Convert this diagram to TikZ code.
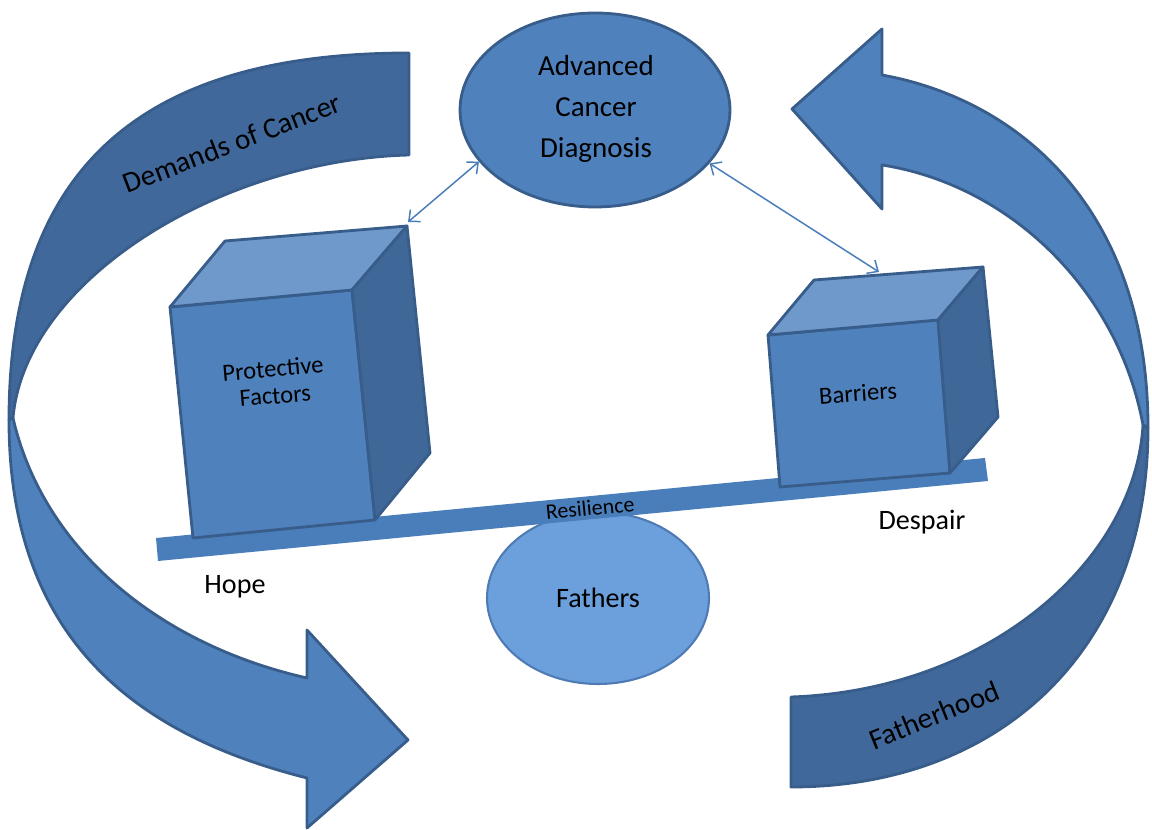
\documentclass[tikz,border=0pt]{standalone}
\usepackage{fontspec}
\setmainfont{Carlito}
\usetikzlibrary{shapes.geometric,arrows.meta}
\definecolor{mainblue}{HTML}{4F81BD}
\definecolor{darkband}{HTML}{41689A}
\definecolor{edgeblue}{HTML}{385D8A}
\definecolor{topblue}{HTML}{7099CB}
\definecolor{sideblue}{HTML}{3F6797}
\definecolor{fathfill}{HTML}{6CA0DC}
\definecolor{fathedge}{HTML}{4F7BB4}
\definecolor{beamblue}{HTML}{4A7EBB}
\tikzset{
  shapeedge/.style={draw=edgeblue, line width=1.6pt, line join=round},
  lightpart/.style={shapeedge, fill=mainblue},
  darkpart/.style={shapeedge, fill=darkband},
  lbl/.style={font=\fontsize{16}{19}\selectfont, text=black, inner sep=0pt},
  bandlbl/.style={font=\fontsize{16.6}{19}\selectfont, text=black, inner sep=0pt},
  cubelbl/.style={font=\fontsize{14}{15.3}\selectfont, text=black, inner sep=0pt, align=center},
  conn/.style={draw=beamblue, line width=0.85pt, {Straight Barb[length=5pt,width=9pt]}-{Straight Barb[length=5pt,width=9pt]}}
}
\begin{document}
\begin{tikzpicture}[x=0.02cm,y=-0.02cm]
\useasboundingbox (0,0) rectangle (1152,830);

% left curved arrow (Demands of Cancer)
\path[darkpart] (409,53) .. controls (150,53) and (9,160) .. (9,420) -- (13,418)
  .. controls (25,280) and (220,160) .. (409,155) -- cycle;
\path[lightpart] (9,420) .. controls (9,640) and (137,735) .. (307,778) -- (307,828) -- (408,740)
  -- (307,630) -- (307,678) .. controls (157,644) and (43,548) .. (13,418) -- cycle;

% right curved arrow (Fatherhood)
\path[darkpart] (1148,428) .. controls (1148,650) and (1000,787) .. (791,787) -- (791,697)
  .. controls (990,690) and (1135,560) .. (1143,425) -- cycle;
\path[lightpart] (882,75) .. controls (1020,100) and (1148,210) .. (1148,428) -- (1143,425)
  .. controls (1118,290) and (1010,185) .. (882,165) -- (882,209) -- (792,109) -- (882,29) -- cycle;

\node[bandlbl, rotate=21] (demands) at (232,143) {Demands of Cancer};
\node[bandlbl, rotate=22] (fatherhood) at (934,715) {Fatherhood};

% Fathers fulcrum
\node[ellipse, draw=fathedge, line width=1.2pt, fill=fathfill, minimum width=4.44cm,
  minimum height=3.44cm, inner sep=0pt, font=\fontsize{16}{19}\selectfont] (fathers) at (598,598) {Fathers};

% beam
\path[fill=beamblue] (156,538) -- (985,458) -- (988,481) -- (158,561) -- cycle;
\node[font=\fontsize{12.5}{14}\selectfont, rotate=5.5, inner sep=0pt] (res) at (590,508) {Resilience};

% left cube
\coordinate (pfA) at (170,307);
\coordinate (pfB) at (352,290);
\coordinate (pfC) at (375,520);
\coordinate (pfD) at (193,538);
\coordinate (pfE) at (225,241);
\coordinate (pfF) at (407,226);
\coordinate (pfG) at (430,453);
\path[shapeedge, fill=mainblue] (pfA) -- (pfB) -- (pfC) -- (pfD) -- cycle;
\path[shapeedge, fill=topblue] (pfA) -- (pfE) -- (pfF) -- (pfB) -- cycle;
\path[shapeedge, fill=sideblue] (pfB) -- (pfF) -- (pfG) -- (pfC) -- cycle;
\node[cubelbl, rotate=5] (pf) at (274,382) {Protective\\Factors};

% right cube
\coordinate (brA) at (768,335);
\coordinate (brB) at (938,320);
\coordinate (brC) at (950,473);
\coordinate (brD) at (780,487);
\coordinate (brE) at (814,280);
\coordinate (brF) at (983,267);
\coordinate (brG) at (998,417);
\path[shapeedge, fill=mainblue] (brA) -- (brB) -- (brC) -- (brD) -- cycle;
\path[shapeedge, fill=topblue] (brA) -- (brE) -- (brF) -- (brB) -- cycle;
\path[shapeedge, fill=sideblue] (brB) -- (brF) -- (brG) -- (brC) -- cycle;
\node[cubelbl, rotate=4] (bar) at (858,393) {Barriers};

% diagnosis ellipse
\node[ellipse, shapeedge, fill=mainblue, minimum width=5.4cm, minimum height=3.88cm, inner sep=0pt] (diag) at (595,110) {};
\node[font=\fontsize{16.5}{23.2}\selectfont, align=center, inner sep=0pt] (diagtext) at (596,109) {Advanced\\Cancer\\Diagnosis};

% connectors
\coordinate (pfTip) at (408,222);
\coordinate (barTip) at (879,272);
\draw[conn] (diag.204.7) -- (pfTip);
\draw[conn] (diag.335.3) -- (barTip);

% side labels
\node[lbl] (hope) at (235,587) {Hope};
\node[lbl] (despair) at (922,522) {Despair};
\end{tikzpicture}
\end{document}
